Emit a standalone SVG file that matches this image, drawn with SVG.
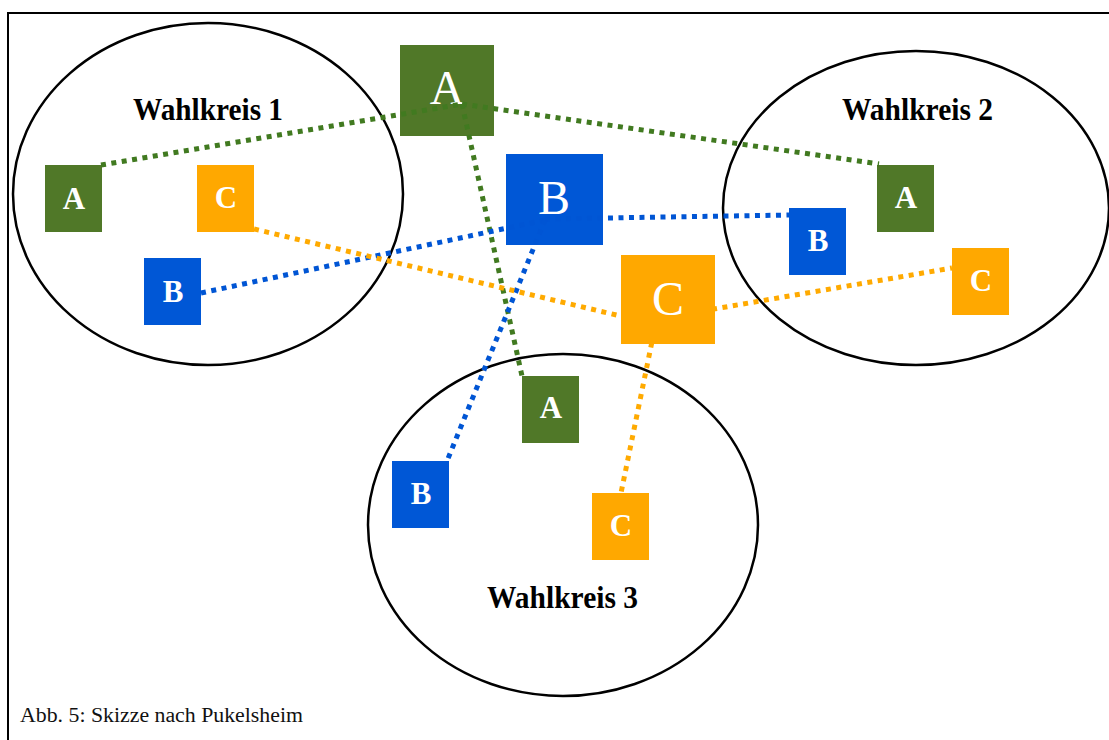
<svg xmlns="http://www.w3.org/2000/svg" width="1109" height="740" viewBox="0 0 1109 740">
<style>
.frame{fill:none;stroke:#000;stroke-width:2}
.wk{fill:none;stroke:#000;stroke-width:2.5}
.wkl{font-family:"Liberation Serif",serif;font-weight:bold;font-size:32px;fill:#000}
.g{fill:#507828}.b{fill:#0057d6}.o{fill:#ffa800}
.sl{font-family:"Liberation Serif",serif;font-weight:bold;font-size:31px;fill:#fff;text-anchor:middle}
.bl{font-family:"Liberation Serif",serif;font-size:48px;fill:#fff;text-anchor:middle}
.c{fill:none;stroke-width:5;stroke-dasharray:5 5.5}
.cg{stroke:#417a20}.cb{stroke:#0055d4}.co{stroke:#ffaa00}
.cap{font-family:"Liberation Serif",serif;font-size:20px;fill:#111}
</style>
<rect x="0" y="0" width="1109" height="740" fill="#fff"/>
<rect class="frame" x="8" y="13" width="1110" height="740"/>
<g id="wahlkreis1">
<ellipse class="wk" cx="208" cy="194" rx="195" ry="171"/>
<text class="wkl" x="133" y="120" textLength="150" lengthAdjust="spacingAndGlyphs">Wahlkreis 1</text>
</g>
<g id="wahlkreis2">
<ellipse class="wk" cx="916" cy="208" rx="193" ry="157"/>
<text class="wkl" x="842" y="120" textLength="151" lengthAdjust="spacingAndGlyphs">Wahlkreis 2</text>
</g>
<g id="wahlkreis3">
<ellipse class="wk" cx="563" cy="525" rx="195" ry="171"/>
<text class="wkl" x="487" y="608" textLength="151" lengthAdjust="spacingAndGlyphs">Wahlkreis 3</text>
</g>
<g id="wk1-A"><rect class="g" x="45" y="165" width="57" height="67"/><text class="sl" x="74" y="209">A</text></g>
<g id="wk1-C"><rect class="o" x="197" y="165" width="57" height="67"/><text class="sl" x="226" y="208">C</text></g>
<g id="wk1-B"><rect class="b" x="144" y="258" width="57" height="67"/><text class="sl" x="173" y="302">B</text></g>
<g id="wk2-A"><rect class="g" x="877" y="165" width="57" height="67"/><text class="sl" x="906" y="208">A</text></g>
<g id="wk2-B"><rect class="b" x="789" y="208" width="57" height="67"/><text class="sl" x="818" y="251">B</text></g>
<g id="wk2-C"><rect class="o" x="952" y="248" width="57" height="67"/><text class="sl" x="981" y="291">C</text></g>
<g id="wk3-A"><rect class="g" x="522" y="376" width="57" height="67"/><text class="sl" x="551" y="418">A</text></g>
<g id="wk3-B"><rect class="b" x="392" y="461" width="57" height="67"/><text class="sl" x="421" y="504">B</text></g>
<g id="wk3-C"><rect class="o" x="592" y="493" width="57" height="67"/><text class="sl" x="621" y="536">C</text></g>
<g id="party-A"><rect class="g" x="400" y="45" width="94" height="91"/><text class="bl" x="447" y="104">A</text></g>
<g id="party-B"><rect class="b" x="506" y="154" width="97" height="91"/><text class="bl" x="554" y="214">B</text></g>
<g id="connectors">
<line class="c cg" x1="101" y1="165" x2="462" y2="104"/>
<line class="c cg" x1="462" y1="104" x2="879" y2="164"/>
<line class="c cg" x1="462" y1="104" x2="522" y2="376"/>
<line class="c cb" x1="201" y1="293" x2="545" y2="220"/>
<line class="c cb" x1="545" y1="219" x2="789" y2="215"/>
<line class="c cb" x1="545" y1="220" x2="447" y2="461"/>
<line class="c co" x1="254" y1="229" x2="650" y2="323"/>
<line class="c co" x1="650" y1="320" x2="952" y2="268"/>
<line class="c co" x1="656" y1="322" x2="621" y2="493"/>
</g>
<g id="party-C"><rect class="o" x="621" y="255" width="94" height="89"/><text class="bl" x="668" y="315">C</text></g>
<text class="cap" x="20" y="722" textLength="283" lengthAdjust="spacingAndGlyphs">Abb. 5: Skizze nach Pukelsheim</text>
</svg>
